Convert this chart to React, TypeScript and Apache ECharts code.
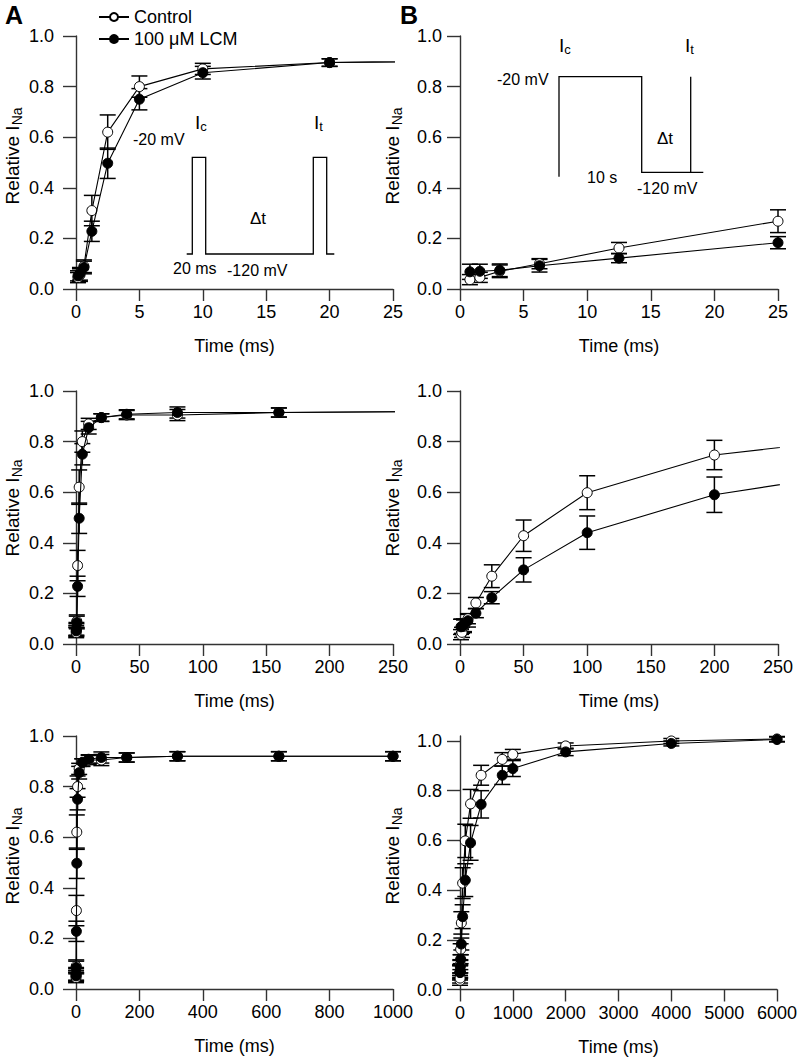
import React, { useEffect, useRef } from 'react';
import * as echarts from 'echarts';

// ---- Data ----
const leftTimes = [0.156, 0.3125, 0.625, 1.25, 2.5, 5, 10, 20, 40, 80, 160, 320, 640, 1000];
const leftControl = [0.045, 0.055, 0.09, 0.31, 0.62, 0.8, 0.87, 0.895, 0.905, 0.905, 0.915, 0.92, 0.92, 0.92];
const leftControlErr = [0.02, 0.025, 0.025, 0.06, 0.068, 0.042, 0.022, 0.015, 0.018, 0.022, 0.018, 0.018, 0.018, 0.018];
const leftLCM = [0.052, 0.06, 0.085, 0.228, 0.497, 0.75, 0.855, 0.895, 0.908, 0.915, 0.915, 0.92, 0.92, 0.92];
const leftLCMErr = [0.02, 0.025, 0.025, 0.04, 0.06, 0.042, 0.025, 0.015, 0.018, 0.022, 0.018, 0.018, 0.018, 0.018];

const rightTimes = [0.78, 1.56, 3.125, 6.25, 12.5, 25, 50, 100, 200, 400, 800, 1000, 2000, 4000, 6000];
const rightControl = [0.037, 0.046, 0.07, 0.1, 0.162, 0.268, 0.428, 0.598, 0.747, 0.862, 0.926, 0.946, 0.98, 1.0, 1.008];
const rightControlErr = [0.02, 0.02, 0.025, 0.02, 0.022, 0.045, 0.062, 0.067, 0.058, 0.04, 0.027, 0.02, 0.012, 0.01, 0.01];
const rightLCM = [0.068, 0.07, 0.074, 0.092, 0.122, 0.183, 0.293, 0.44, 0.59, 0.745, 0.862, 0.889, 0.956, 0.99, 1.006];
const rightLCMErr = [0.03, 0.028, 0.025, 0.025, 0.018, 0.024, 0.048, 0.066, 0.07, 0.055, 0.037, 0.032, 0.015, 0.01, 0.01];

// panel order: TL, TR, ML, MR, BL, BR
const xMaxes = [25, 25, 250, 250, 1000, 6000];
const xIntervals = [5, 5, 50, 50, 200, 1000];
const yMaxes = [1, 1, 1, 1, 1, 1.02];
const yTickValues = [0, 0.2, 0.4, 0.6, 0.8, 1.0];
const seriesNames = ['Control', '100 μM LCM'];

const FONT = '"Liberation Sans", Arial, Helvetica, sans-serif';

const grids = [
  { left: 76, top: 36, width: 317, height: 253 },
  { left: 460, top: 36, width: 318, height: 253 },
  { left: 76, top: 391, width: 317, height: 253 },
  { left: 460, top: 391, width: 318, height: 253 },
  { left: 76, top: 736, width: 317, height: 253 },
  { left: 460, top: 736, width: 318, height: 253.5 },
];

function pairs(t: number[], v: number[]) {
  return t.map((x, i) => [x, v[i]]);
}
function triples(t: number[], v: number[], e: number[], max: number) {
  return t.map((x, i) => [x, v[i], e[i]]).filter((d) => d[0] <= max);
}

const errRender = (params: any, api: any) => {
  const x = api.value(0);
  const y = api.value(1);
  const e = api.value(2);
  const top = api.coord([x, y + e]);
  const bot = api.coord([x, y - e]);
  const hw = 8;
  const st = { stroke: '#000', lineWidth: 1.5 };
  return {
    type: 'group',
    children: [
      { type: 'line', shape: { x1: top[0], y1: top[1], x2: bot[0], y2: bot[1] }, style: st },
      { type: 'line', shape: { x1: top[0] - hw, y1: top[1], x2: top[0] + hw, y2: top[1] }, style: st },
      { type: 'line', shape: { x1: bot[0] - hw, y1: bot[1], x2: bot[0] + hw, y2: bot[1] }, style: st },
    ],
  };
};

function subText(x: number, y: number, base: string, sub: string, size: number, subSize: number, rot = 0, align = 'left') {
  return {
    type: 'text',
    x,
    y,
    rotation: rot,
    style: {
      text: `{a|${base}}{b|${sub}}`,
      rich: {
        a: { fontSize: size, fontFamily: FONT, fill: '#000' },
        b: { fontSize: subSize, fontFamily: FONT, fill: '#000', padding: [Math.round(size * 0.45), 0, 0, 0] },
      },
      align,
      verticalAlign: 'middle',
      fill: '#000',
    },
  };
}

function plainText(x: number, y: number, text: string, size: number, align = 'left', weight = 'normal') {
  return {
    type: 'text',
    x,
    y,
    style: { text, fontSize: size, fontFamily: FONT, fontWeight: weight, fill: '#000', align, verticalAlign: 'middle' },
  };
}

export default function App() {
  const ref = useRef<HTMLDivElement>(null);
  useEffect(() => {
    if (!ref.current) return;
    const chart = echarts.init(ref.current, undefined, { renderer: 'svg' });

    const xAxis = grids.map((_, i) => ({
      gridIndex: i,
      type: 'value',
      min: 0,
      max: xMaxes[i],
      interval: xIntervals[i],
      name: 'Time (ms)',
      nameLocation: 'middle',
      nameGap: 48,
      nameTextStyle: { fontSize: 18, fontFamily: FONT, color: '#000' },
      axisLine: { lineStyle: { color: '#333', width: 1.4 } },
      axisTick: { length: 12, lineStyle: { color: '#333', width: 1.4 } },
      axisLabel: {
        fontSize: 18,
        fontFamily: FONT,
        color: '#000',
        margin: 14,
        formatter: (v: number) => String(v),
      },
      splitLine: { show: false },
    }));

    const yAxis = grids.map((_, i) => ({
      gridIndex: i,
      type: 'value',
      min: 0,
      max: yMaxes[i],
      interval: 0.2,
      axisLine: { show: true, lineStyle: { color: '#333', width: 1.4 } },
      axisTick: { show: true, length: 13, customValues: yTickValues, lineStyle: { color: '#333', width: 1.4 } },
      axisLabel: {
        fontSize: 18,
        fontFamily: FONT,
        color: '#000',
        margin: i % 2 === 0 ? 22 : 18,
        customValues: yTickValues,
        formatter: (v: number) => v.toFixed(1),
      },
      splitLine: { show: false },
    }));

    const series: any[] = [];
    grids.forEach((_, i) => {
      const left = i % 2 === 0;
      const t = left ? leftTimes : rightTimes;
      const c = left ? leftControl : rightControl;
      const ce = left ? leftControlErr : rightControlErr;
      const l = left ? leftLCM : rightLCM;
      const le = left ? leftLCMErr : rightLCMErr;
      series.push({
        type: 'custom',
        xAxisIndex: i,
        yAxisIndex: i,
        renderItem: errRender,
        data: triples(t, c, ce, xMaxes[i]),
        encode: { x: 0, y: 1 },
        z: 1,
        silent: true,
      });
      series.push({
        type: 'custom',
        xAxisIndex: i,
        yAxisIndex: i,
        renderItem: errRender,
        data: triples(t, l, le, xMaxes[i]),
        encode: { x: 0, y: 1 },
        z: 1,
        silent: true,
      });
      series.push({
        name: seriesNames[0],
        type: 'line',
        xAxisIndex: i,
        yAxisIndex: i,
        data: pairs(t, c),
        clip: true,
        symbol: 'circle',
        symbolSize: 10,
        showAllSymbol: true,
        lineStyle: { color: '#000', width: 1.1 },
        itemStyle: { color: '#fff', borderColor: '#000', borderWidth: 1 },
        z: 2,
      });
      series.push({
        name: seriesNames[1],
        type: 'line',
        xAxisIndex: i,
        yAxisIndex: i,
        data: pairs(t, l),
        clip: true,
        symbol: 'circle',
        symbolSize: 10,
        showAllSymbol: true,
        lineStyle: { color: '#000', width: 1.1 },
        itemStyle: { color: '#000', borderColor: '#000', borderWidth: 1 },
        z: 3,
      });
    });

    const yNameCentersY = [156, 508, 856];
    const graphics: any[] = [
      plainText(5, 15, 'A', 25, 'left', 'bold'),
      plainText(400, 15, 'B', 25, 'left', 'bold'),
    ];
    yNameCentersY.forEach((cy) => {
      graphics.push(subText(12, cy, 'Relative I', 'Na', 19, 14, Math.PI / 2, 'center'));
      graphics.push(subText(392, cy, 'Relative I', 'Na', 19, 14, Math.PI / 2, 'center'));
    });
    // Inset A
    graphics.push({
      type: 'polyline',
      shape: {
        points: [
          [186.7, 254], [192.3, 254], [192.3, 157.3], [205.7, 157.3], [205.7, 254],
          [313.3, 254], [313.3, 157.3], [326.7, 157.3], [326.7, 254], [334.3, 254],
        ],
      },
      style: { stroke: '#000', lineWidth: 1.3, fill: null },
    });
    graphics.push(subText(195, 122, 'I', 'c', 19, 13));
    graphics.push(subText(314, 122, 'I', 't', 19, 13));
    graphics.push(plainText(133, 139, '-20 mV', 16));
    graphics.push(plainText(258, 218, 'Δt', 17, 'center'));
    graphics.push(plainText(173, 268, '20 ms', 16));
    graphics.push(plainText(227, 270, '-120 mV', 16));
    // Inset B
    graphics.push({
      type: 'polyline',
      shape: {
        points: [[559, 176.7], [559, 76.7], [641.7, 76.7], [641.7, 172.3], [703.3, 172.3]],
      },
      style: { stroke: '#000', lineWidth: 1.3, fill: null },
    });
    graphics.push({
      type: 'line',
      shape: { x1: 690.7, y1: 76.7, x2: 690.7, y2: 172.3 },
      style: { stroke: '#000', lineWidth: 1.3 },
    });
    graphics.push(subText(559, 45, 'I', 'c', 19, 13));
    graphics.push(subText(685, 45, 'I', 't', 19, 13));
    graphics.push(plainText(497, 79, '-20 mV', 16));
    graphics.push(plainText(665, 138, 'Δt', 17, 'center'));
    graphics.push(plainText(587, 177, '10 s', 16));
    graphics.push(plainText(637, 188, '-120 mV', 16));

    chart.setOption({
      animation: false,
      backgroundColor: '#fff',
      textStyle: { fontFamily: FONT },
      grid: grids,
      xAxis,
      yAxis,
      legend: {
        data: seriesNames,
        orient: 'vertical',
        left: 93,
        top: 3,
        itemWidth: 30,
        itemHeight: 10,
        itemGap: 4,
        selectedMode: false,
        textStyle: { fontSize: 18, fontFamily: FONT, color: '#000' },
      },
      series,
      graphic: graphics,
    });
    return () => chart.dispose();
  }, []);
  return <div ref={ref} style={{ position: 'absolute', left: 0, top: 0, width: 800, height: 1058 }} />;
}
